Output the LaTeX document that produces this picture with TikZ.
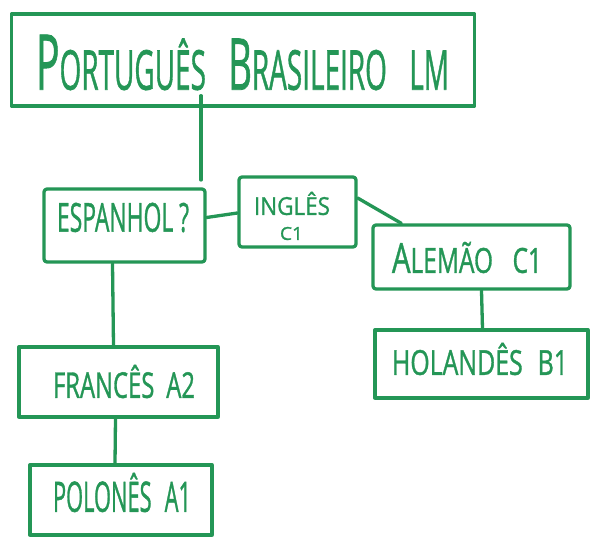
\documentclass[tikz,border=0pt]{standalone}
\usepackage{fontspec}
\setmainfont{Open Sans}[FakeBold=1.2]
\usepackage{graphicx}
\definecolor{marker}{RGB}{36,150,86}
\tikzset{
  box/.style={draw=marker, line width=3.3pt, rectangle, inner sep=0pt, line join=round},
  lbl/.style={inner sep=0pt, text=marker},
  link/.style={draw=marker, line width=3.3pt, line cap=round}
}
\newcommand{\hw}[3]{\resizebox{#1pt}{#2pt}{#3}}
\begin{document}
\begin{tikzpicture}[x=1pt,y=-1pt]
\useasboundingbox (0,0) rectangle (590,538);
\fill[white] (0,0) rectangle (590,538);
% boxes
\node[box, minimum width=463pt, minimum height=92pt] (top) at (243,60) {};
\node[box, minimum width=161pt, minimum height=73pt, rounded corners=3pt] (esp) at (124.5,225.5) {};
\node[box, minimum width=117pt, minimum height=70pt, rounded corners=3pt] (ing) at (297.5,212) {};
\node[box, minimum width=197pt, minimum height=64pt, rounded corners=3pt] (ale) at (471.5,257) {};
\node[box, minimum width=213pt, minimum height=68pt] (hol) at (481.5,364) {};
\node[box, minimum width=199pt, minimum height=70pt] (fra) at (118.5,382) {};
\node[box, minimum width=182pt, minimum height=70pt] (pol) at (121,500) {};
% labels
\node[lbl] (ttop) at (242.5,62.5) {\hw{413}{55}{\scalebox{1.4}{P}ORTUGUÊS\hspace{0.8em}\scalebox{1.3}{B}RASILEIRO\hspace{0.8em}LM}};
\node[lbl] (tesp) at (123,217.5) {\hw{132}{29}{ESPANHOL ?}};
\node[lbl] (ting) at (292,203.5) {\hw{76}{23}{INGLÊS}};
\node[lbl] (tingb) at (291.5,233.5) {\hw{23}{13}{C1}};
\node[lbl] (tale) at (467,257.5) {\hw{150}{31}{\scalebox{1.2}{A}LEMÃO\hspace{0.8em}C1}};
\node[lbl] (thol) at (480,359) {\hw{176}{32}{HOLANDÊS\hspace{0.6em}B1}};
\node[lbl] (tfra) at (124,381.5) {\hw{142}{33}{FRANCÊS\hspace{0.5em}A2}};
\node[lbl] (tpol) at (122,492.5) {\hw{138}{39}{POLONÊS\hspace{0.6em}A1}};
% connectors
\coordinate (j) at (201,180);
\draw[link] ([yshift=12pt]top.south -| j) -- (j);
\draw[link] ([yshift=8pt]esp.east) -- ([yshift=-1pt]ing.west);
\draw[link] ([yshift=14pt]ing.east) -- ([xshift=30pt]ale.north west);
\draw[link] ([xshift=-12pt]esp.south) -- ([xshift=-5pt]fra.north);
\draw[link] ([xshift=-3pt]fra.south) -- ([xshift=-6pt]pol.north);
\draw[link] ([xshift=10pt]ale.south) -- ([xshift=1pt]hol.north);
\end{tikzpicture}
\end{document}
